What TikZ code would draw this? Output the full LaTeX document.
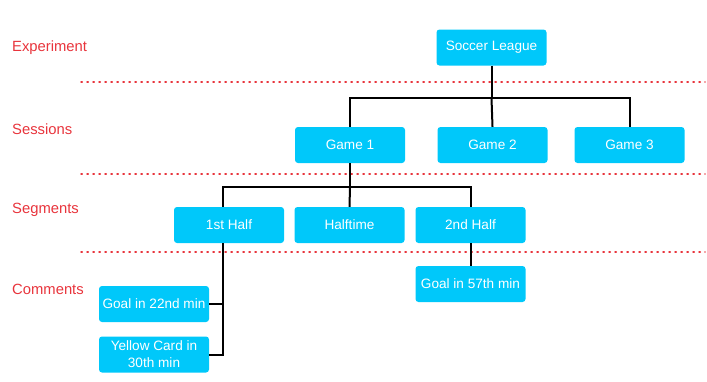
\documentclass[tikz,border=0pt]{standalone}
\usepackage{fontspec}
\setmainfont{Liberation Sans}
\definecolor{boxc}{HTML}{00C8FA}
\definecolor{labc}{HTML}{E8343C}
\begin{document}
\begin{tikzpicture}[x=1pt,y=-1pt,
  box/.style={fill=boxc,rounded corners=3pt,minimum width=110pt,minimum height=36pt,inner sep=1pt,
    text=white,font=\fontsize{13.6}{17}\selectfont,align=center},
  lvl/.style={anchor=west,text=labc,font=\fontsize{14.8}{17}\selectfont,inner sep=0pt},
  sep/.style={labc,line width=1.4pt,dash pattern=on 1.3pt off 4.7pt,line cap=round},
  conn/.style={black,line width=2pt}]
\useasboundingbox (0,0) rectangle (707,381);
% level labels
\node[lvl] (lexp) at (12,48) {Experiment};
\node[lvl] (lses) at (12,129) {Sessions};
\node[lvl] (lseg) at (12,210) {Segments};
\node[lvl] (lcom) at (12,289) {Comments};
% separators
\coordinate (s1a) at (81,82);  \coordinate (s1b) at (705,82);
\coordinate (s2a) at (81,174); \coordinate (s2b) at (705,174);
\coordinate (s3a) at (81,252); \coordinate (s3b) at (705,252);
\draw[sep] (s1a) -- (s1b);
\draw[sep] (s2a) -- (s2b);
\draw[sep] (s3a) -- (s3b);
% nodes
\node[box] (league) at (491.5,47.5) {Soccer League};
\node[box] (g1) at (350,145) {Game 1};
\node[box] (g2) at (492.5,145) {Game 2};
\node[box] (g3) at (629.5,145) {Game 3};
\node[box] (h1) at (229,225) {1st Half};
\node[box] (ht) at (349.5,225) {Halftime};
\node[box] (h2) at (470.5,225) {2nd Half};
\node[box] (c57) at (470.5,284) {Goal in 57th min};
\node[box] (c22) at (154,304) {Goal in 22nd min};
\node[box] (cyc) at (154,354.5) {Yellow Card in\\30th min};
% connectors
\coordinate (j1) at (491.5,98);
\draw[conn] (league.south) -- (j1);
\draw[conn] (g1.north) |- (j1) -| (g3.north);
\draw[conn] (j1) -- (g2.north);
\coordinate (j2) at (350,187);
\coordinate (t1) at (223,187);
\draw[conn] (g1.south) -- (j2);
\draw[conn] (t1 |- h1.north) -- (t1) -- (j2) -| (h2.north);
\draw[conn] (j2) -- (ht.north);
\coordinate (d1) at (223,354.5);
\draw[conn] (t1 |- h1.south) -- (d1) -- (cyc.east);
\draw[conn] (c22.east) -- (c22.east -| d1);
\draw[conn] (h2.south) -- (c57.north);
\end{tikzpicture}
\end{document}
